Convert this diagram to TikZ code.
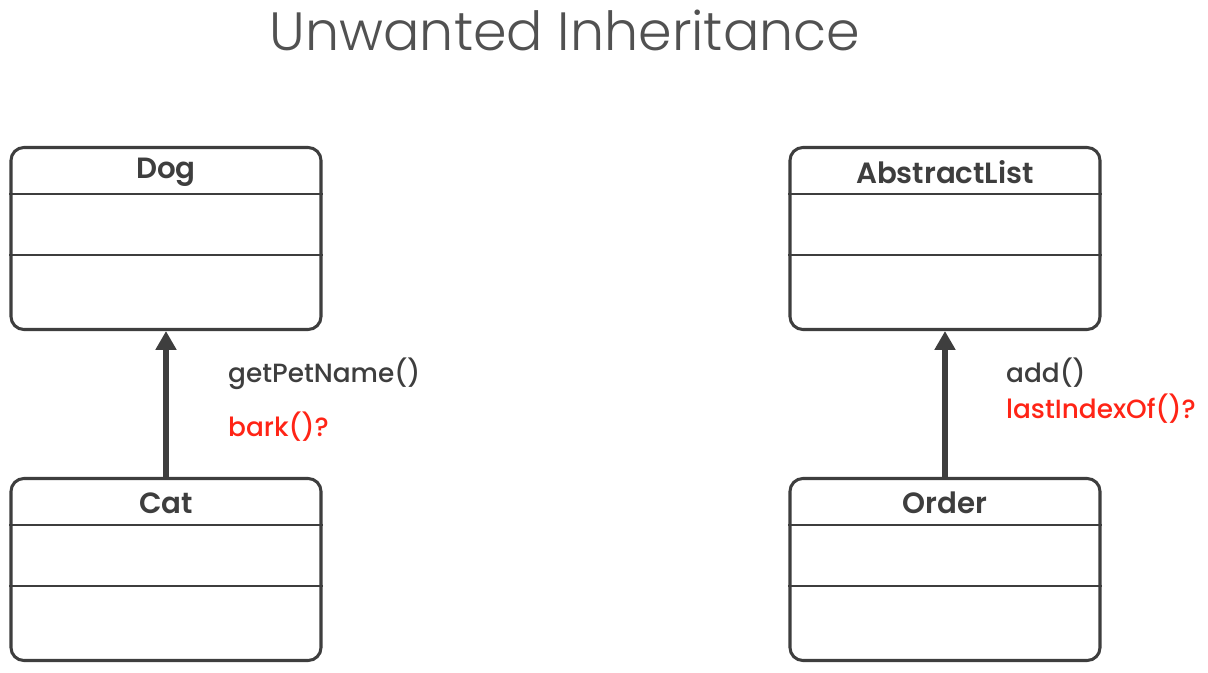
\documentclass[tikz,border=0pt]{standalone}
\usepackage{fontspec}
\setmainfont{Poppins}
\newfontfamily\titlefont{Poppins Light}
\newfontfamily\namefont{Poppins SemiBold}
\newfontfamily\memberfont{Poppins Medium}
\usetikzlibrary{arrows.meta,calc}
\definecolor{umlgrey}{HTML}{3E3E3E}
\definecolor{umlred}{HTML}{FF2416}

\begin{document}
\begin{tikzpicture}[x=0.03cm,y=-0.03cm,
    classbox/.style={draw=umlgrey, line width=2.6pt, rounded corners=11pt,
        minimum width=9.3cm, minimum height=5.46cm},
    divider/.style={draw=umlgrey, line width=2.3pt},
    classname/.style={text=umlgrey, font=\namefont\fontsize{25}{29}\selectfont},
    member/.style={anchor=west, font=\memberfont\fontsize{22.5}{26}\selectfont},
    inherit/.style={draw=umlgrey, line width=5pt, -{Triangle[length=16pt,width=17pt]}}]
    \useasboundingbox (0,0) rectangle (1208,672);

    % title
        \node[text=umlgrey!90, font=\titlefont\fontsize{46}{52}\selectfont] (title) at (565,30) {Unwanted Inheritance};

    % class boxes
        \node[classbox] (dog) at (166,238.5) {};
        \node[classbox] (cat) at (166,569.5) {};
        \node[classbox] (list) at (945,238.5) {};
        \node[classbox] (order) at (945,569.5) {};

    % names and compartments
    \foreach \cls/\name in {dog/Dog, cat/Cat, list/AbstractList, order/Order} {
        \node[classname] (\cls-name) at ($(\cls.north)+(0,26)$) {\name};
        \draw[divider] ($(\cls.north west)+(0,48)$) -- ($(\cls.north east)+(0,48)$);
        \draw[divider] ($(\cls.north west)+(0,109)$) -- ($(\cls.north east)+(0,109)$);
    }

    % inheritance
        \draw[inherit] (cat) -- (dog);
        \draw[inherit] (order) -- (list);

    % inherited methods
        \node[member, text=umlgrey] (getname) at (224,374) {getPetName()};
        \node[member, text=umlred] (bark) at (224,427) {bark()?};
        \node[member, text=umlgrey] (add) at (1002,373) {add()};
        \node[member, text=umlred] (lastidx) at (1002,409) {lastIndexOf()?};

\end{tikzpicture}
\end{document}
